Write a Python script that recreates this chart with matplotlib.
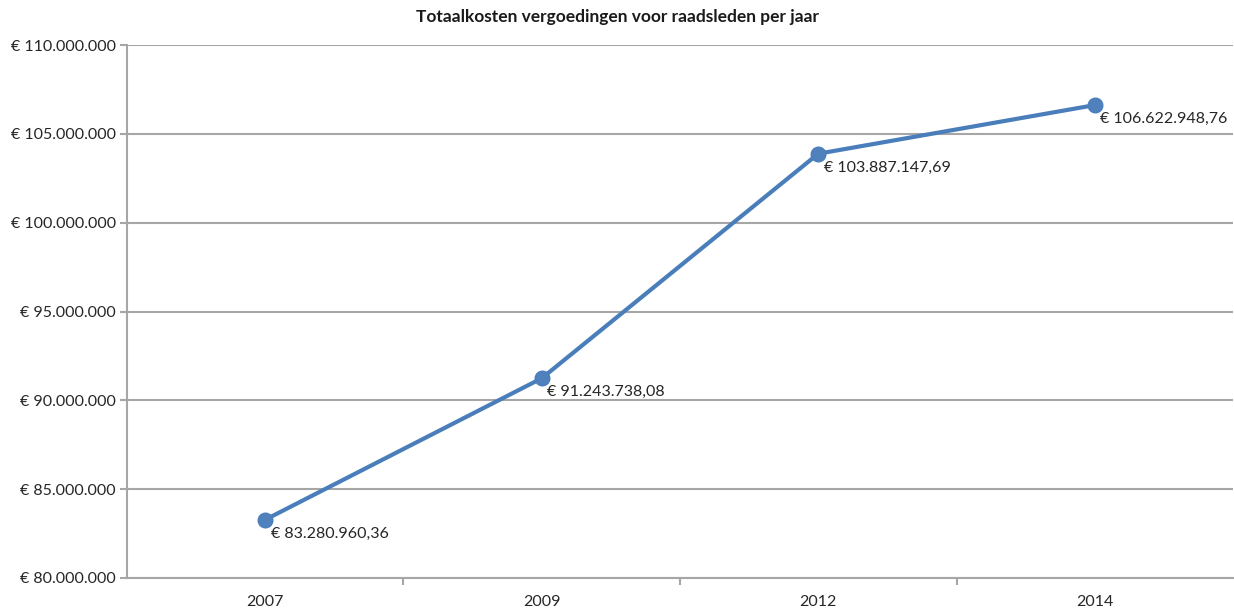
import matplotlib
matplotlib.use("Agg")
import matplotlib.pyplot as plt
from matplotlib.ticker import FuncFormatter, FixedLocator

years = ["2007", "2009", "2012", "2014"]
costs = [83280960.36, 91243738.08, 103887147.69, 106622948.76]
y_ticks = [80e6, 85e6, 90e6, 95e6, 100e6, 105e6, 110e6]
title = "Totaalkosten vergoedingen voor raadsleden per jaar"

plt.rcParams["font.family"] = ["Lato", "DejaVu Sans"]

def euro_int(v, pos=None):
    return "€ " + f"{int(round(v)):,}".replace(",", ".")

def euro_dec(v):
    s = f"{v:,.2f}"
    s = s.replace(",", "X").replace(".", ",").replace("X", ".")
    return "€ " + s

fig = plt.figure(figsize=(12.34, 6.10), dpi=100)
ax = fig.add_axes([0.1029, 0.0525, 0.8963, 0.8735])

x = list(range(len(years)))
ax.plot(x, costs, color="#4a7ebb", lw=3, marker="o", markersize=10.5,
        markerfacecolor="#4f81bd", markeredgecolor="#4a7ebb", zorder=4,
        solid_capstyle="round")

for xi, v in zip(x, costs):
    ax.annotate(euro_dec(v), xy=(xi, v), xytext=(4, -5), textcoords="offset points",
                ha="left", va="top", fontsize=11.5, color="#262626", zorder=5)

ax.set_xlim(-0.5, len(years) - 0.5)
ax.set_ylim(80e6, 110e6)
ax.set_yticks(y_ticks)
ax.yaxis.set_major_formatter(FuncFormatter(euro_int))
ax.set_xticks(x)
ax.set_xticklabels(years)
ax.xaxis.set_minor_locator(FixedLocator([i + 0.5 for i in x[:-1]]))

ax.grid(axis="y", color="#a6a6a6", lw=1.5)
ax.set_axisbelow(True)
for s in ["top", "right"]:
    ax.spines[s].set_visible(False)
ax.spines["left"].set_color("#a6a6a6")
ax.spines["left"].set_linewidth(1.5)
ax.spines["bottom"].set_color("#a6a6a6")
ax.spines["bottom"].set_linewidth(1.5)

ax.tick_params(axis="y", length=5, width=1.5, color="#a6a6a6", labelsize=11.5,
               labelcolor="#262626", pad=3)
ax.tick_params(axis="x", which="major", length=0, labelsize=11.5,
               labelcolor="#262626", pad=12)
ax.tick_params(axis="x", which="minor", length=5, width=1.5, color="#a6a6a6")

fig.suptitle(title, y=0.985, fontsize=12.5, fontweight="bold", color="#1a1a1a")

fig.savefig("out.png", dpi=100)
plt.close(fig)
